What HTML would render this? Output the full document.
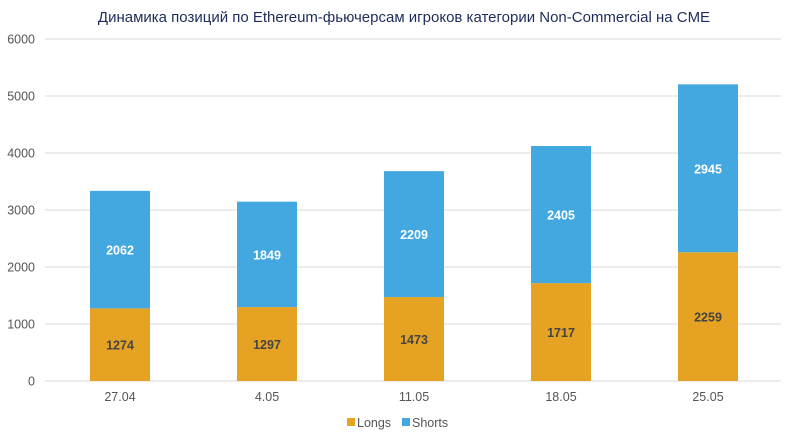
<!DOCTYPE html>
<html><head><meta charset="utf-8"><style>
body{margin:0;background:#fff;font-family:"Liberation Sans",sans-serif;}
svg text{font-family:"Liberation Sans","DejaVu Sans",sans-serif;}
</style></head><body>
<svg id="c" width="788" height="438">
<text x="404" y="22" text-anchor="middle" font-size="15" fill="#1f2d5a">Динамика позиций по Ethereum-фьючерсам игроков категории Non-Commercial на CME</text>
<g id="grid"></g><g id="bars"></g>
<g>
<rect x="347" y="418" width="8" height="8" fill="#e6a323"/>
<text x="357" y="427" font-size="12.5" fill="#555">Longs</text>
<rect x="402" y="418" width="8" height="8" fill="#43a7e0"/>
<text x="412" y="427" font-size="12.5" fill="#555">Shorts</text>
</g>
</svg>
<script>
const categories=["27.04","4.05","11.05","18.05","25.05"];
const longs=[1274,1297,1473,1717,2259];
const shorts=[2062,1849,2209,2405,2945];
const yTicks=[0,1000,2000,3000,4000,5000,6000];
const NS="http://www.w3.org/2000/svg";
const x0=46.5,x1=781.5,yZero=381,yTop=39,yMax=6000;
const y=v=>yZero-(v/yMax)*(yZero-yTop);
const band=(x1-x0)/categories.length;
const cx=i=>x0+band*(i+0.5);
const bw=60;
function mk(t,a,p){const e=document.createElementNS(NS,t);for(const k in a)e.setAttribute(k,a[k]);p.appendChild(e);return e;}
const g=document.getElementById('grid'),b=document.getElementById('bars');
yTicks.forEach(t=>{
 const l=mk('line',{x1:45,x2:781,y1:y(t),y2:y(t),stroke:'#d9d9d9','stroke-width':1},g);
 
 
 const tx=mk('text',{x:35,y:y(t)+4.5,'text-anchor':'end','font-size':12.5,fill:'#555'},g);
 tx.textContent=t;
 
 
});
categories.forEach((c,i)=>{
 const r1=mk('rect',{x:cx(i)-bw/2,y:y(longs[i]),width:bw,height:yZero-y(longs[i]),fill:'#e6a323'},b);
 
 
 const r2=mk('rect',{x:cx(i)-bw/2,y:y(longs[i]+shorts[i]),width:bw,height:y(longs[i])-y(longs[i]+shorts[i]),fill:'#43a7e0'},b);
 
 
 const t1=mk('text',{x:cx(i),y:(yZero+y(longs[i]))/2+5,'text-anchor':'middle','font-size':12.5,'font-weight':'bold',fill:'#444'},b);
 t1.textContent=longs[i];
 
 
 const t2=mk('text',{x:cx(i),y:(y(longs[i])+y(longs[i]+shorts[i]))/2+5,'text-anchor':'middle','font-size':12.5,'font-weight':'bold',fill:'#fff'},b);
 t2.textContent=shorts[i];
 
 
 const xl=mk('text',{x:cx(i),y:401,'text-anchor':'middle','font-size':12.5,fill:'#555'},b);
 xl.textContent=c;
 
 
});
</script>
</body></html>
